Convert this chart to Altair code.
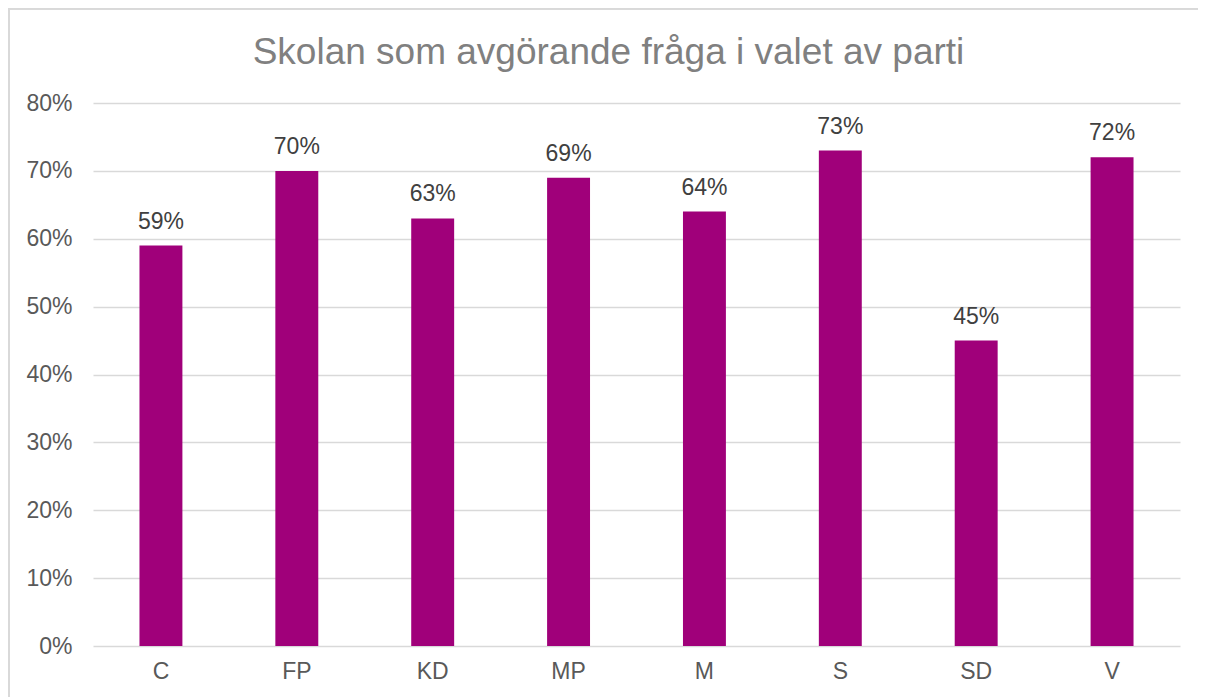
import altair as alt
import pandas as pd

parties = ["C", "FP", "KD", "MP", "M", "S", "SD", "V"]
values = [0.59, 0.70, 0.63, 0.69, 0.64, 0.73, 0.45, 0.72]
y_ticks = [0, 0.1, 0.2, 0.3, 0.4, 0.5, 0.6, 0.7, 0.8]

df = pd.DataFrame({"party": parties, "value": values})

W, H = 1087, 543
FONT = "Liberation Sans"

x_enc = alt.X("party:N", sort=parties, title=None,
              scale=alt.Scale(paddingInner=0.684, paddingOuter=0.342),
              axis=alt.Axis(labelAngle=0, ticks=False, domain=False,
                            labelFontSize=23, labelColor="#595959",
                            labelFont=FONT, labelPadding=14, grid=False))
y_enc = alt.Y("value:Q", title=None,
              scale=alt.Scale(domain=[0, 0.8]),
              axis=alt.Axis(values=y_ticks, format=".0%", ticks=False, domain=False,
                            labelFontSize=23, labelColor="#595959", labelFont=FONT,
                            labelPadding=21, gridColor="#D9D9D9", gridWidth=1.3))

border = alt.Chart(df).mark_rect(fill="transparent", stroke="#D9D9D9", strokeWidth=1.5, clip=False).encode(
    x=alt.value(-84.2), x2=alt.value(W + 300), y=alt.value(-94.2), y2=alt.value(H + 300)
)

bars = alt.Chart(df).mark_bar(color="#A0007A").encode(x=x_enc, y=y_enc)

labels = alt.Chart(df).mark_text(dy=-17, baseline="alphabetic", fontSize=23,
                                 font=FONT, color="#404040").encode(
    x=alt.X("party:N", sort=parties),
    y="value:Q",
    text=alt.Text("value:Q", format=".0%"),
)

chart = alt.layer(bars, labels, border).properties(
    width=W, height=H,
    autosize=alt.AutoSizeParams(type="none"),
    padding={"left": 85, "top": 95, "right": 18, "bottom": 51},
    title=alt.TitleParams("Skolan som avgörande fråga i valet av parti",
                          fontSize=37, font=FONT, fontWeight="normal",
                          color="#808080", anchor="middle", frame="group",
                          baseline="alphabetic", dx=-28, dy=93, offset=0),
).configure(background="white").configure_view(strokeWidth=0)

chart.save("out.html", embed_options={"renderer": "svg", "actions": False})
